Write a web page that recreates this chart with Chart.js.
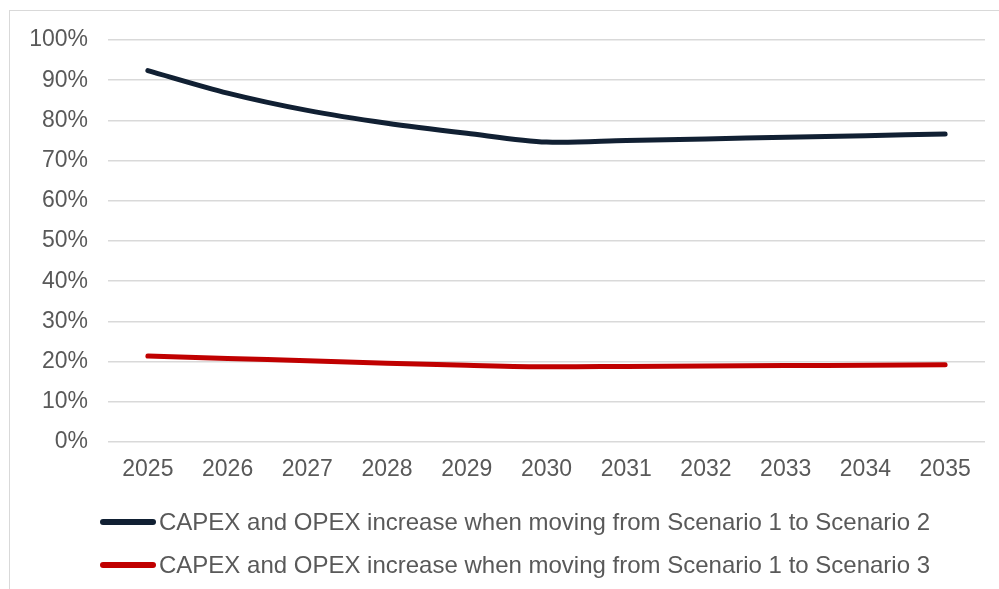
<!DOCTYPE html>
<html>
<head>
<meta charset="utf-8">
<script src="https://cdn.jsdelivr.net/npm/chart.js@4"></script>
<style>
  body { margin: 0; background: #fff; font-family: "Liberation Sans", Arial, sans-serif; }
  #wrap { position: relative; width: 999px; height: 589px; overflow: hidden; }
  #frame { position: absolute; left: 9px; top: 10px; width: 1000px; height: 600px; border: 1px solid #d9d9d9; }
  #legend { position: absolute; left: 100px; top: 500px; color: #595959; font-size: 24px; }
  .item { display: flex; align-items: center; height: 43px; }
  .swatch { width: 56px; height: 6px; border-radius: 3px; margin-right: 3px; }
</style>
</head>
<body>
<div id="wrap">
  <div id="frame"></div>
  <canvas id="lineChart" width="999" height="589"></canvas>
  <div id="legend"></div>
</div>
<script>
var years = ['2025', '2026', '2027', '2028', '2029', '2030', '2031', '2032', '2033', '2034', '2035'];
var scenario2 = [92.4, 86.8, 82.5, 79.3, 76.8, 74.6, 75.0, 75.4, 75.8, 76.2, 76.6];
var scenario3 = [21.4, 20.8, 20.2, 19.6, 19.1, 18.7, 18.8, 18.9, 19.0, 19.1, 19.2];
var seriesNames = [
    'CAPEX and OPEX increase when moving from Scenario 1 to Scenario 2',
    'CAPEX and OPEX increase when moving from Scenario 1 to Scenario 3'
];
var seriesColors = ['#112033', '#c00000'];

var ctx = document.getElementById('lineChart').getContext('2d');
var chart = new Chart(ctx, {
    type: 'line',
    data: {
        labels: years,
        datasets: [{
            label: seriesNames[0],
            data: scenario2,
            borderColor: seriesColors[0],
            borderWidth: 5,
            pointRadius: 0,
            tension: 0.3,
            borderCapStyle: 'round',
            fill: false
        }, {
            label: seriesNames[1],
            data: scenario3,
            borderColor: seriesColors[1],
            borderWidth: 5,
            pointRadius: 0,
            tension: 0.3,
            borderCapStyle: 'round',
            fill: false
        }]
    },
    options: {
        responsive: false,
        animation: false,
        layout: { padding: { top: 40, right: 14, bottom: 107, left: 0 } },
        plugins: { legend: { display: false }, tooltip: { enabled: false } },
        scales: {
            x: {
                offset: true,
                grid: { display: false, drawTicks: false },
                border: { display: false },
                ticks: { color: '#595959', font: { family: 'Liberation Sans', size: 23 }, padding: 14 },
                afterFit: function (s) { s.height = 40; }
            },
            y: {
                min: 0,
                max: 100,
                ticks: {
                    stepSize: 10,
                    color: '#595959',
                    font: { family: 'Liberation Sans', size: 23 },
                    padding: 20,
                    callback: function (v) { return v + '%'; }
                },
                grid: { color: '#d9d9d9', lineWidth: 1.5, drawTicks: false },
                border: { display: false },
                afterFit: function (s) { s.width = 108; }
            }
        }
    }
});

var legend = document.getElementById('legend');
chart.data.datasets.forEach(function (ds) {
    var row = document.createElement('div');
    row.className = 'item';
    var sw = document.createElement('span');
    sw.className = 'swatch';
    sw.style.background = ds.borderColor;
    var txt = document.createElement('span');
    txt.textContent = ds.label;
    row.appendChild(sw);
    row.appendChild(txt);
    legend.appendChild(row);
});
</script>
</body>
</html>
